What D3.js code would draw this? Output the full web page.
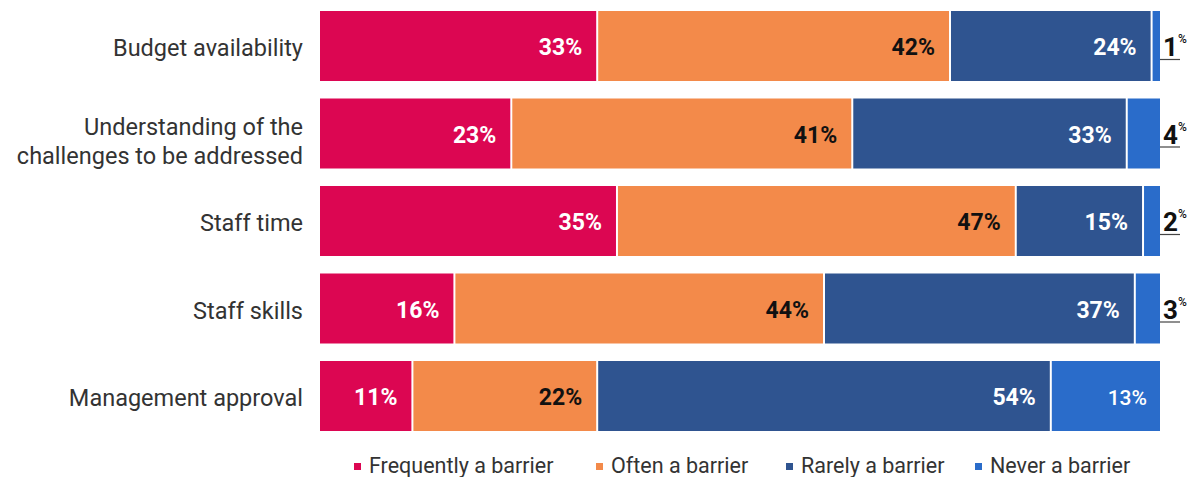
<!DOCTYPE html>
<html>
<head>
<meta charset="utf-8">
<script src="https://cdn.jsdelivr.net/npm/d3@7"></script>
<style>
  html, body { margin: 0; padding: 0; background: #ffffff; }
  svg { display: block; font-family: Roboto, "Noto Sans", sans-serif; }
</style>
</head>
<body>
<svg id="chart" width="1191" height="477"></svg>
<script>
// Survey answers: how often each factor is a barrier (percent of respondents)
const categories = [
  ["Budget availability"],
  ["Understanding of the", "challenges to be addressed"],
  ["Staff time"],
  ["Staff skills"],
  ["Management approval"]
];
const seriesNames = ["Frequently a barrier", "Often a barrier", "Rarely a barrier", "Never a barrier"];
const frequently = [33, 23, 35, 16, 11];
const often      = [42, 41, 47, 44, 22];
const rarely     = [24, 33, 15, 37, 54];
const never      = [1, 4, 2, 3, 13];

const colors = ["#dc0652", "#f38a4a", "#2f5490", "#2a6cca"];
const textColors = ["#ffffff", "#111111", "#ffffff", "#ffffff"];

const svg = d3.select("#chart");
const margin = { left: 320, right: 31, top: 11, bottom: 47 };
const W = 1191, H = 477;

const rows = categories.map((c, i) => {
  const vals = [frequently[i], often[i], rarely[i], never[i]];
  const total = d3.sum(vals);
  let acc = 0;
  const segs = vals.map((v, k) => {
    const s = { k, v, x0: acc / total, x1: (acc + v) / total };
    acc += v;
    return s;
  });
  return { i, label: c, segs };
});

const x = d3.scaleLinear().domain([0, 1]).range([margin.left, W - margin.right]);
const y = d3.scaleBand().domain(d3.range(categories.length))
  .range([margin.top, H - margin.bottom + 1]).paddingInner(0.2).paddingOuter(0);
const mid = y.bandwidth() / 2;

const rowG = svg.selectAll("g.row").data(rows).join("g")
  .attr("class", "row")
  .attr("transform", d => `translate(0,${y(d.i)})`);

// stacked segments, separated by thin white gaps
rowG.selectAll("rect").data(d => d.segs).join("rect")
  .attr("x", s => x(s.x0) + (s.k > 0 ? 1 : 0))
  .attr("width", s => Math.max(0, x(s.x1) - x(s.x0) - (s.k > 0 ? 1 : 0) - (s.k < 3 ? 1 : 0)))
  .attr("y", 0)
  .attr("height", y.bandwidth())
  .attr("fill", s => colors[s.k]);

// value labels inside segments
rowG.selectAll("text.val").data(d => d.segs.filter(s => s.v >= 10)).join("text")
  .attr("class", "val")
  .attr("x", s => x(s.x1) - (s.k === 3 ? 13 : 15))
  .attr("y", mid + 9)
  .attr("text-anchor", "end")
  .attr("font-size", s => (s.k === 3 ? 21 : 23))
  .attr("font-weight", s => (s.k === 3 ? 500 : 700))
  .attr("fill", s => textColors[s.k])
  .text(s => s.v + "%");

// small values get an outside label with a leader line
const small = rowG.filter(d => d.segs[3].v < 10);
small.append("line")
  .attr("x1", x(1))
  .attr("x2", x(1) + 20)
  .attr("y1", mid + 13.5)
  .attr("y2", mid + 13.5)
  .attr("stroke", "#444")
  .attr("stroke-width", 1.2);
const outTxt = small.append("text")
  .attr("x", x(1) + 3)
  .attr("y", mid + 10)
  .attr("fill", "#111")
  .attr("font-weight", 700);
outTxt.append("tspan").attr("font-size", 26).text(d => d.segs[3].v);
outTxt.append("tspan").attr("font-size", 12).attr("dy", -13).attr("font-weight", 500).text("%");

// category labels
const labels = svg.selectAll("text.cat").data(rows).join("text")
  .attr("class", "cat")
  .attr("text-anchor", "end")
  .attr("font-size", 23.5)
  .attr("fill", "#333")
  .attr("transform", d => `translate(303,${y(d.i) + mid})`);
labels.selectAll("tspan").data(d => d.label.map((t, j) => ({ t, j, n: d.label.length }))).join("tspan")
  .attr("x", 0)
  .attr("y", l => (l.j - (l.n - 1) / 2) * 29 + 10 + (l.n > 1 ? 6 : 0))
  .text(l => l.t);

// legend
const legendX = [354, 596, 786, 975];
const leg = svg.selectAll("g.leg").data(seriesNames).join("g")
  .attr("class", "leg")
  .attr("transform", (d, k) => `translate(${legendX[k]},466)`);
leg.append("rect").attr("x", 0).attr("y", -3).attr("width", 7).attr("height", 7)
  .attr("fill", (d, k) => colors[k]);
leg.append("text").attr("x", 15).attr("y", 7).attr("font-size", 21.5).attr("fill", "#333")
  .text(d => d);
</script>
</body>
</html>
